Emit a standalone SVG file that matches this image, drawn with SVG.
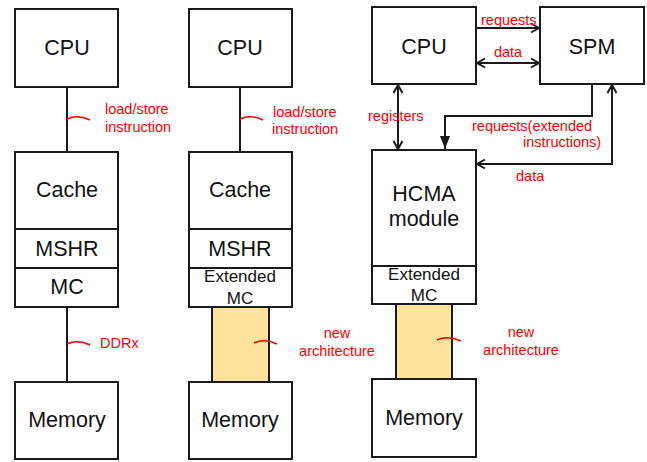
<svg xmlns="http://www.w3.org/2000/svg" width="647" height="462" viewBox="0 0 647 462">
  <style>
    .box { fill: #ffffff; stroke: #1a1a1a; stroke-width: 2; }
    .bus { fill: #fde39c; stroke: #1a1a1a; stroke-width: 2; }
    .wire { fill: none; stroke: #1a1a1a; stroke-width: 2; }
    .tick { fill: none; stroke: #ff0000; stroke-width: 1.6; }
    .lbl { font-family: "Liberation Sans", Arial, sans-serif; font-size: 21.5px; fill: #111111; text-anchor: middle; }
    .sub { font-family: "Liberation Sans", Arial, sans-serif; font-size: 17px; fill: #111111; text-anchor: middle; }
    .note { font-family: "Liberation Sans", Arial, sans-serif; font-size: 14.5px; fill: #ff0000; }
  </style>
  <defs>
    <marker id="open" viewBox="-10 -6 12 12" refX="0" refY="0" markerWidth="12" markerHeight="12" markerUnits="userSpaceOnUse" orient="auto-start-reverse">
      <path d="M-8,-4.5 L0,0 L-8,4.5" fill="none" stroke="#1a1a1a" stroke-width="2"/>
    </marker>
    <marker id="solid" viewBox="-14 -6 15 12" refX="0" refY="0" markerWidth="15" markerHeight="12" markerUnits="userSpaceOnUse" orient="auto">
      <path d="M-13,-5 L0,0 L-13,5 Z" fill="#1a1a1a"/>
    </marker>
  </defs>

  <!-- connectors -->
  <g id="connectors">
    <!-- conventional stack -->
    <line class="wire" x1="67" y1="87" x2="67" y2="152"/>
    <line class="wire" x1="67" y1="307" x2="67" y2="382"/>
    <!-- extended stack -->
    <line class="wire" x1="240" y1="87" x2="240" y2="152"/>
    <!-- HCMA system -->
    <line class="wire" x1="476" y1="28" x2="539" y2="28" marker-end="url(#open)"/>
    <line class="wire" x1="477" y1="63" x2="539" y2="63" marker-start="url(#open)" marker-end="url(#open)"/>
    <line class="wire" x1="398" y1="85" x2="398" y2="149" marker-start="url(#open)" marker-end="url(#open)"/>
    <path class="wire" d="M592,84 V116 H445 V149" marker-end="url(#solid)"/>
    <path class="wire" d="M612,85 V164 H477" marker-start="url(#open)" marker-end="url(#open)"/>
  </g>

  <!-- conventional memory hierarchy -->
  <g id="cpu1"><rect class="box" x="15" y="9" width="103" height="78"/><text class="lbl" x="67" y="55">CPU</text></g>
  <g id="cache1"><rect class="box" x="15" y="152" width="103" height="77"/><text class="lbl" x="67" y="197">Cache</text></g>
  <g id="mshr1"><rect class="box" x="15" y="229" width="103" height="39"/><text class="lbl" x="67" y="256">MSHR</text></g>
  <g id="mc1"><rect class="box" x="15" y="268" width="103" height="39"/><text class="lbl" x="67" y="294">MC</text></g>
  <g id="memory1"><rect class="box" x="15" y="382" width="103" height="77"/><text class="lbl" x="67" y="427">Memory</text></g>

  <!-- extended memory controller -->
  <g id="cpu2"><rect class="box" x="189" y="9" width="103" height="78"/><text class="lbl" x="240" y="55">CPU</text></g>
  <g id="cache2"><rect class="box" x="189" y="152" width="103" height="77"/><text class="lbl" x="240" y="197">Cache</text></g>
  <g id="mshr2"><rect class="box" x="189" y="229" width="103" height="39"/><text class="lbl" x="240" y="256">MSHR</text></g>
  <g id="emc2"><rect class="box" x="189" y="268" width="103" height="39"/><text class="sub" x="240" y="282">Extended</text><text class="sub" x="240" y="304">MC</text></g>
  <g id="arch2"><rect class="bus" x="212" y="307" width="57" height="75"/></g>
  <g id="memory2"><rect class="box" x="189" y="382" width="103" height="77"/><text class="lbl" x="240" y="427">Memory</text></g>

  <!-- HCMA system -->
  <g id="cpu3"><rect class="box" x="372" y="7" width="104" height="77"/><text class="lbl" x="424" y="54">CPU</text></g>
  <g id="spm"><rect class="box" x="540" y="7" width="104" height="77"/><text class="lbl" x="592" y="54">SPM</text></g>
  <g id="hcma"><rect class="box" x="372" y="150" width="104" height="116"/><text class="lbl" x="424" y="201">HCMA</text><text class="lbl" x="424" y="226">module</text></g>
  <g id="emc3"><rect class="box" x="372" y="266" width="104" height="38"/><text class="sub" x="424" y="280">Extended</text><text class="sub" x="424" y="301">MC</text></g>
  <g id="arch3"><rect class="bus" x="396" y="304" width="56" height="75"/></g>
  <g id="memory3"><rect class="box" x="372" y="379" width="104" height="78"/><text class="lbl" x="424" y="425">Memory</text></g>

  <!-- link annotations -->
  <g id="labels">
    <path class="tick" d="M67,119 Q78,114 90,120"/>
    <text class="note" x="105" y="114">load/store</text>
    <text class="note" x="105" y="132">instruction</text>
    <path class="tick" d="M240,119 Q251,114 263,120"/>
    <text class="note" x="273" y="117">load/store</text>
    <text class="note" x="272" y="134">instruction</text>
    <path class="tick" d="M67,344 Q78,339 90,345"/>
    <text class="note" x="100" y="348">DDRx</text>
    <path class="tick" d="M254,343 Q265,338 277,344"/>
    <text class="note" x="337" y="338" text-anchor="middle">new</text>
    <text class="note" x="337" y="356" text-anchor="middle">architecture</text>
    <path class="tick" d="M437,340 Q448,335 461,341"/>
    <text class="note" x="521" y="337" text-anchor="middle">new</text>
    <text class="note" x="521" y="355" text-anchor="middle">architecture</text>
    <text class="note" x="481" y="25">requests</text>
    <text class="note" x="508" y="57" text-anchor="middle">data</text>
    <text class="note" x="368" y="121">registers</text>
    <text class="note" x="472" y="131">requests(extended</text>
    <text class="note" x="523" y="147">instructions)</text>
    <text class="note" x="516" y="181">data</text>
  </g>
</svg>
